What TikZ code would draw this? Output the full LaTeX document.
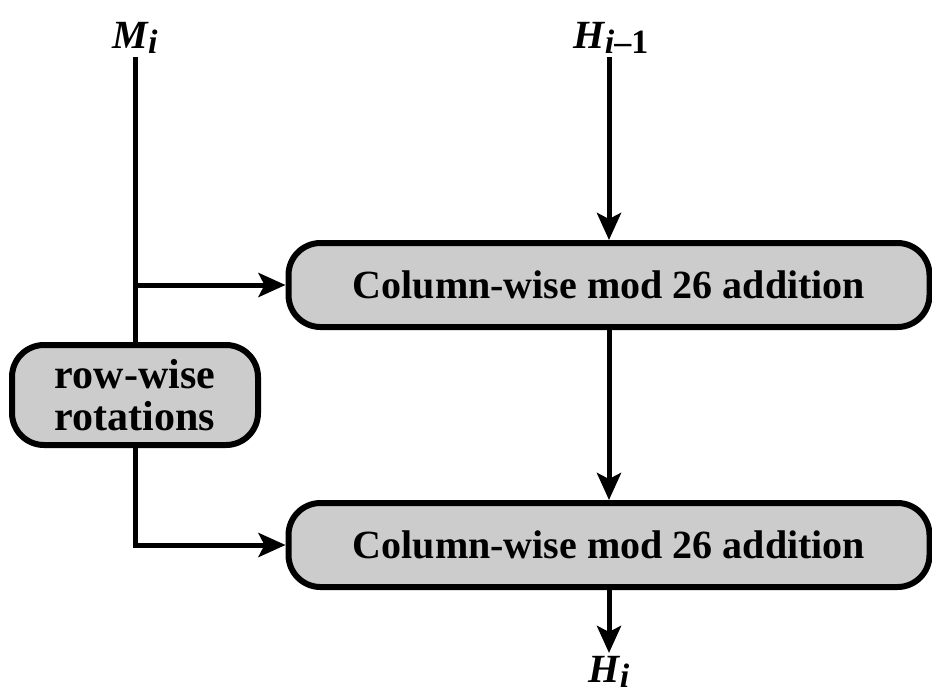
\documentclass[tikz,border=0pt]{standalone}
\usepackage{fontspec}
\setmainfont{Liberation Serif}
\usetikzlibrary{arrows.meta}
\begin{document}
\begin{tikzpicture}[x=1pt, y=-1pt,
    blk/.style={draw, line width=6pt, fill=black!20, rounded corners=32pt,
      inner sep=0pt, align=center, font=\fontsize{40}{44}\selectfont\bfseries},
    lbl/.style={inner sep=3pt, font=\fontsize{40}{40}\selectfont\bfseries},
    line/.style={line width=5pt},
    conn/.style={line width=5pt, -{Stealth[length=27pt, width=24pt, inset=6pt]}}]
  \useasboundingbox (0,0) rectangle (932,697);
  \node[blk, minimum width=641pt, minimum height=84pt] (add1) at (609,285) {Column-wise mod 26 addition};
  \node[blk, minimum width=641pt, minimum height=84pt] (add2) at (609,545) {Column-wise mod 26 addition};
  \node[blk, minimum width=246pt, minimum height=100pt, font=\fontsize{42}{42}\selectfont\bfseries] (rot) at (135,395) {row-wise\\rotations};
  \node[lbl] (mi) at (135,38) {\itshape M\raisebox{-0.3ex}{\fontsize{34}{34}\selectfont i}};
  \node[lbl] (hprev) at (611,38) {\itshape H\raisebox{-0.3ex}{\fontsize{34}{34}\selectfont i\upshape--1}};
  \node[lbl] (hi) at (609,672) {\itshape H\raisebox{-0.3ex}{\fontsize{34}{34}\selectfont i}};
  \coordinate (br) at (mi |- add1);
  \draw[line] (mi) -- (rot);
  \draw[conn] (br) -- (add1);
  \draw[conn] (rot) |- (add2);
  \draw[conn] (hprev.south -| add1) -- (add1);
  \draw[conn] (add1) -- (add2);
  \draw[conn] (add2) -- (hi);
\end{tikzpicture}
\end{document}
